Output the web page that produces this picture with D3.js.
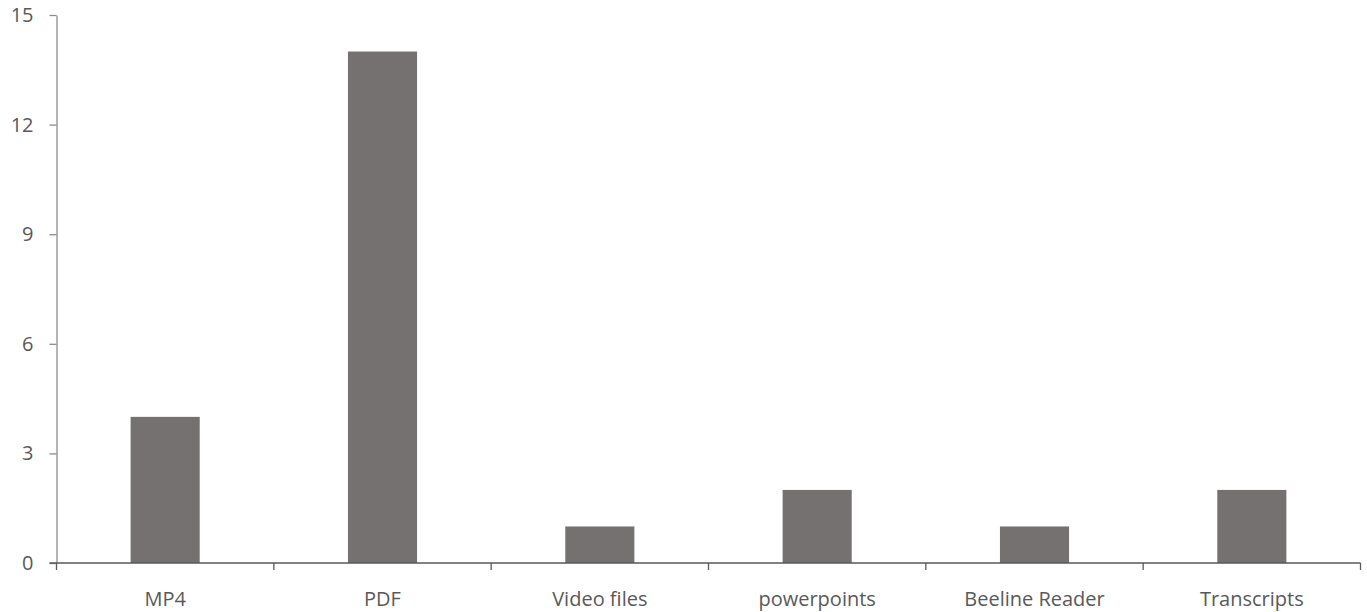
<!DOCTYPE html>
<html>
<head>
<meta charset="utf-8">
<script src="https://cdn.jsdelivr.net/npm/d3@7"></script>
<style>
  html, body { margin: 0; padding: 0; background: #fff; }
  svg { display: block; }
  text { font-family: "Open Sans", "Liberation Sans", sans-serif; fill: #595959; }
</style>
</head>
<body>
<svg id="chart" width="1367" height="612"></svg>
<script>
const categories = ["MP4", "PDF", "Video files", "powerpoints", "Beeline Reader", "Transcripts"];
const counts = [4, 14, 1, 2, 1, 2];
const yTicks = [0, 3, 6, 9, 12, 15];

const svg = d3.select("#chart");
const plotLeft = 56.5, plotRight = 1360.5, plotTop = 15, plotBottom = 563;
const fontSize = "20px";

const x = d3.scaleBand().domain(categories).range([plotLeft, plotRight]).padding(0);
const y = d3.scaleLinear().domain([0, 15]).range([plotBottom, plotTop]);
const barW = x.bandwidth() * 0.318;

// bars
svg.append("g").selectAll("rect")
  .data(categories)
  .join("rect")
  .attr("x", (d) => x(d) + (x.bandwidth() - barW) / 2)
  .attr("y", (d, i) => y(counts[i]))
  .attr("width", barW)
  .attr("height", (d, i) => y(0) - y(counts[i]))
  .attr("fill", "#757170");

// y axis
const yAxis = svg.append("g")
  .attr("transform", `translate(${plotLeft},0)`)
  .call(d3.axisLeft(y).tickValues(yTicks).tickSize(7).tickPadding(16).tickSizeOuter(0));
yAxis.select(".domain").attr("stroke", "#8c8c8c").attr("stroke-width", 1.3);
yAxis.selectAll(".tick line").attr("stroke", "#8c8c8c").attr("stroke-width", 1.3);
yAxis.selectAll(".tick text").style("font-size", fontSize).attr("fill", "#595959");

// x axis with ticks on category boundaries
const xAxis = svg.append("g")
  .attr("transform", `translate(0,${plotBottom})`);
xAxis.append("line")
  .attr("x1", plotLeft - 7).attr("x2", plotRight)
  .attr("stroke", "#595959").attr("stroke-width", 1.3);
const bounds = categories.map((c) => x(c)).concat([x(categories[categories.length - 1]) + x.bandwidth()]);
xAxis.selectAll("line.tk")
  .data(bounds)
  .join("line")
  .attr("class", "tk")
  .attr("x1", (d) => d).attr("x2", (d) => d)
  .attr("y1", 0).attr("y2", 7)
  .attr("stroke", "#595959").attr("stroke-width", 1.3);
xAxis.selectAll("text")
  .data(categories)
  .join("text")
  .attr("x", (d) => x(d) + x.bandwidth() / 2)
  .attr("y", 43)
  .attr("text-anchor", "middle")
  .style("font-size", fontSize)
  .text((d) => d);
</script>
</body>
</html>
